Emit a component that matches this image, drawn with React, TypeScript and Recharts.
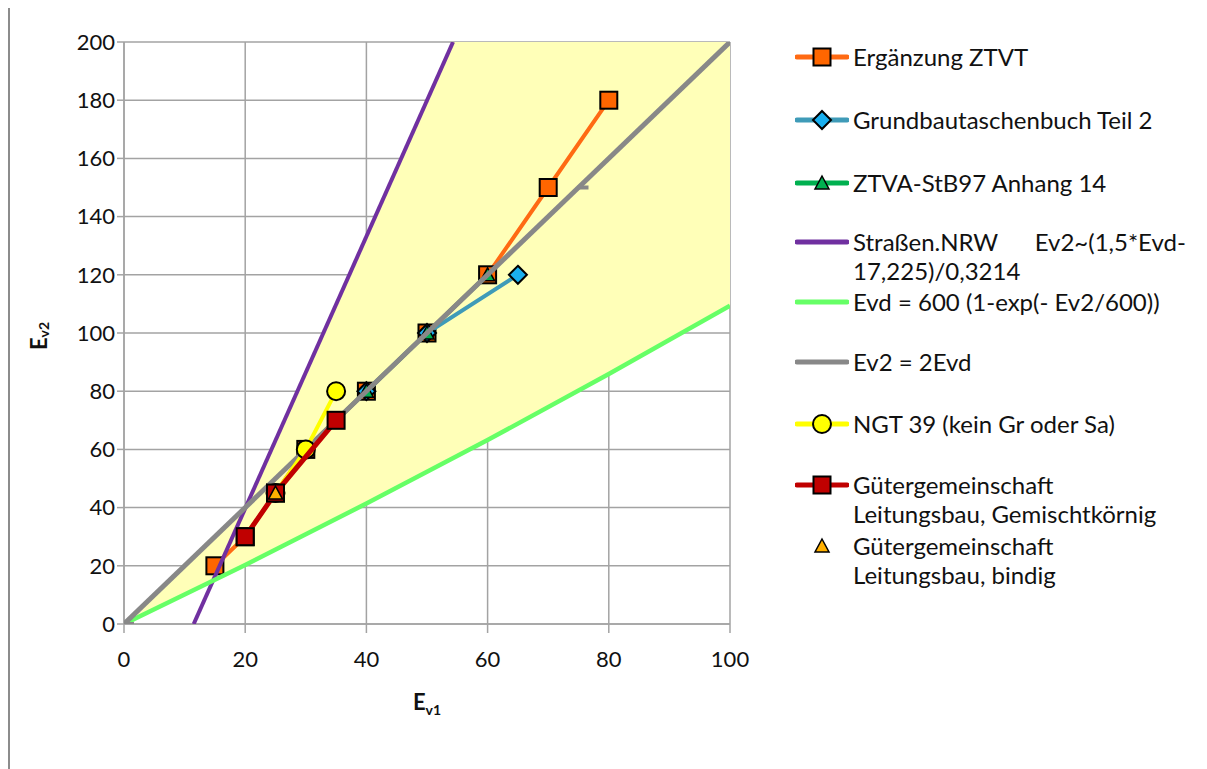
import React from "react";
import { ComposedChart, Area, Scatter, XAxis, YAxis, CartesianGrid } from "recharts";

const X_TICKS = [0, 20, 40, 60, 80, 100];
const Y_TICKS = [0, 20, 40, 60, 80, 100, 120, 140, 160, 180, 200];

// Ev1 / Ev2 pairs per source
const ZTVT_X = [15, 20, 25, 30, 40, 50, 60, 70, 80];
const ZTVT_Y = [20, 30, 45, 60, 80, 100, 120, 150, 180];
const GBT_X = [40, 50, 65];
const GBT_Y = [80, 100, 120];
const ZTVA_X = [30, 40, 50, 60];
const ZTVA_Y = [60, 80, 100, 120];
const NRW_X = [11.5, 54.3];
const NRW_Y = [0, 200];
const EVD_X = [0, 20, 40, 60, 80, 100];
const EVD_Y = [0, 20.3, 41.4, 63.2, 85.9, 109.4];
const TWO_X = [0, 75, 100];
const TWO_Y = [0, 150, 200];
const NGT_X = [25, 30, 35];
const NGT_Y = [45, 60, 80];
const GEM_X = [20, 25, 35];
const GEM_Y = [30, 45, 70];
const BIN_X = [25];
const BIN_Y = [45];

// shaded zone: below the NRW / 2Evd lines, above the Evd curve
const BAND_X = [0, 20.1, 54.3, 60, 80, 100];
const BAND_LO = [0, 20.4, 57, 63.2, 85.9, 109.4];
const BAND_HI = [0, 40.2, 200, 200, 200, 200];

const pts = (xs: number[], ys: number[]) => xs.map((x, i) => ({ x, y: ys[i] }));
const band = BAND_X.map((x, i) => ({ x, band: [BAND_LO[i], BAND_HI[i]] }));

const ORANGE = "#FF6A13";
const TEAL = "#3F9BB8";
const GREEN = "#00B050";
const PURPLE = "#7030A0";
const LIME = "#66FF66";
const GRAY = "#888888";
const YELLOW = "#FFFF00";
const RED = "#C00000";
const AMBER = "#FFB000";
const GRID = "#A3A3A3";
const FONT = "Lato, 'Open Sans', sans-serif";

const square = (fill: string) => (p: any) =>
  <rect x={p.cx - 8.5} y={p.cy - 8.5} width={17} height={17} fill={fill} stroke="#000" strokeWidth={2} />;
const diamond = (fill: string) => (p: any) =>
  <polygon points={`${p.cx},${p.cy - 9} ${p.cx + 9},${p.cy} ${p.cx},${p.cy + 9} ${p.cx - 9},${p.cy}`} fill={fill} stroke="#000" strokeWidth={2} />;
const triangle = (fill: string) => (p: any) =>
  <polygon points={`${p.cx},${p.cy - 7} ${p.cx + 7},${p.cy + 6} ${p.cx - 7},${p.cy + 6}`} fill={fill} stroke="#000" strokeWidth={1.5} />;
const circle = (fill: string) => (p: any) =>
  <circle cx={p.cx} cy={p.cy} r={9} fill={fill} stroke="#000" strokeWidth={2} />;
const dash = (p: any) => <rect x={p.cx - 1} y={p.cy - 2} width={11} height={4} fill={GRAY} />;
const none = () => <g />;

const LEGEND = [
  { text: ["Ergänzung ZTVT"], color: ORANGE, mark: square("#FF6600") },
  { text: ["Grundbautaschenbuch Teil 2"], color: TEAL, mark: diamond("#1AAFEF") },
  { text: ["ZTVA-StB97 Anhang 14"], color: GREEN, mark: triangle(GREEN) },
  { text: ["Straßen.NRW      Ev2~(1,5*Evd-", "17,225)/0,3214"], color: PURPLE, mark: none },
  { text: ["Evd = 600 (1-exp(- Ev2/600))"], color: LIME, mark: none },
  { text: ["Ev2 = 2Evd"], color: GRAY, mark: none },
  { text: ["NGT 39 (kein Gr oder Sa)"], color: YELLOW, mark: circle(YELLOW) },
  { text: ["Gütergemeinschaft", "Leitungsbau, Gemischtkörnig"], color: RED, mark: square(RED) },
  { text: ["Gütergemeinschaft", "Leitungsbau, bindig"], color: null, mark: triangle(AMBER) },
];
const LEGEND_TOP = [57, 120, 183, 242, 302, 362, 424, 485, 546];

function Sub({ main, sub }: { main: string; sub: string }) {
  return (
    <>
      <tspan fontSize={22}>{main}</tspan>
      <tspan fontSize={14} dy={5}>{sub}</tspan>
    </>
  );
}

export default function App() {
  return (
    <div style={{ position: "relative", width: 1199, height: 761, borderLeft: "2px solid #8C8C8C", boxSizing: "border-box", fontFamily: FONT }}>
      <ComposedChart width={1197} height={761} data={band} margin={{ top: 34, right: 477, bottom: 85, left: 54 }} style={{ fontFamily: FONT }}>
        <Area dataKey="band" type="linear" stroke="none" fill="#FFFFB8" fillOpacity={1} isAnimationActive={false} />
        <CartesianGrid stroke={GRID} strokeWidth={1.5} />
        <XAxis
          type="number" dataKey="x" domain={[0, 100]} ticks={X_TICKS} allowDataOverflow
          stroke={GRID} strokeWidth={1.5} tickSize={9} tickMargin={18} height={60}
          tick={{ fill: "#111", fontSize: 22, fontFamily: FONT }}
          label={{
            content: (p: any) => (
              <text x={p.viewBox.x + p.viewBox.width / 2} y={p.viewBox.y + 86} textAnchor="middle" fontWeight="bold" fill="#111" fontFamily={FONT}>
                <Sub main="E" sub="v1" />
              </text>
            ),
          }}
        />
        <YAxis
          type="number" dataKey="y" domain={[0, 200]} ticks={Y_TICKS} allowDataOverflow
          stroke={GRID} strokeWidth={1.5} tickSize={7} tickMargin={2} width={60}
          tick={{ fill: "#111", fontSize: 22, fontFamily: FONT }}
          label={{
            content: (p: any) => {
              const cx = p.viewBox.x - 26;
              const cy = p.viewBox.y + p.viewBox.height / 2 + 3;
              return (
                <text x={cx} y={cy} transform={`rotate(-90 ${cx} ${cy})`} textAnchor="middle" dominantBaseline="central" fontWeight="bold" fill="#111" fontFamily={FONT}>
                  <Sub main="E" sub="v2" />
                </text>
              );
            },
          }}
        />
        <Scatter data={pts(ZTVT_X, ZTVT_Y)} line={{ stroke: ORANGE, strokeWidth: 4 }} shape={square("#FF6600")} isAnimationActive={false} />
        <Scatter data={pts(GBT_X, GBT_Y)} line={{ stroke: TEAL, strokeWidth: 4 }} shape={diamond("#1AAFEF")} isAnimationActive={false} />
        <Scatter data={pts(ZTVA_X, ZTVA_Y)} line={{ stroke: GREEN, strokeWidth: 4 }} shape={triangle(GREEN)} isAnimationActive={false} />
        <Scatter data={pts(NRW_X, NRW_Y)} line={{ stroke: PURPLE, strokeWidth: 4 }} shape={none} isAnimationActive={false} />
        <Scatter data={pts(EVD_X, EVD_Y)} line={{ stroke: LIME, strokeWidth: 4.5 }} shape={none} isAnimationActive={false} />
        <Scatter data={pts(TWO_X, TWO_Y)} line={{ stroke: GRAY, strokeWidth: 5 }} shape={dash} isAnimationActive={false} />
        <Scatter data={pts(NGT_X, NGT_Y)} line={{ stroke: YELLOW, strokeWidth: 4 }} shape={circle(YELLOW)} isAnimationActive={false} />
        <Scatter data={pts(GEM_X, GEM_Y)} line={{ stroke: RED, strokeWidth: 5 }} shape={square(RED)} isAnimationActive={false} />
        <Scatter data={pts(BIN_X, BIN_Y)} shape={triangle(AMBER)} isAnimationActive={false} />
      </ComposedChart>

      {LEGEND.map((item, i) => (
        <div key={i} style={{ position: "absolute", left: 785, top: LEGEND_TOP[i] - 8 - 15, display: "flex", alignItems: "flex-start" }}>
          <svg width={54} height={30} style={{ flex: "none" }}>
            {item.color && <line x1={2} y1={15} x2={52} y2={15} stroke={item.color} strokeWidth={5} strokeLinecap="round" />}
            {item.mark({ cx: 27, cy: 15 })}
          </svg>
          <div style={{ marginLeft: 4, fontSize: 24, lineHeight: "29px", color: "#111", whiteSpace: "pre" }}>
            {item.text.map((t, j) => <div key={j}>{t}</div>)}
          </div>
        </div>
      ))}
    </div>
  );
}
